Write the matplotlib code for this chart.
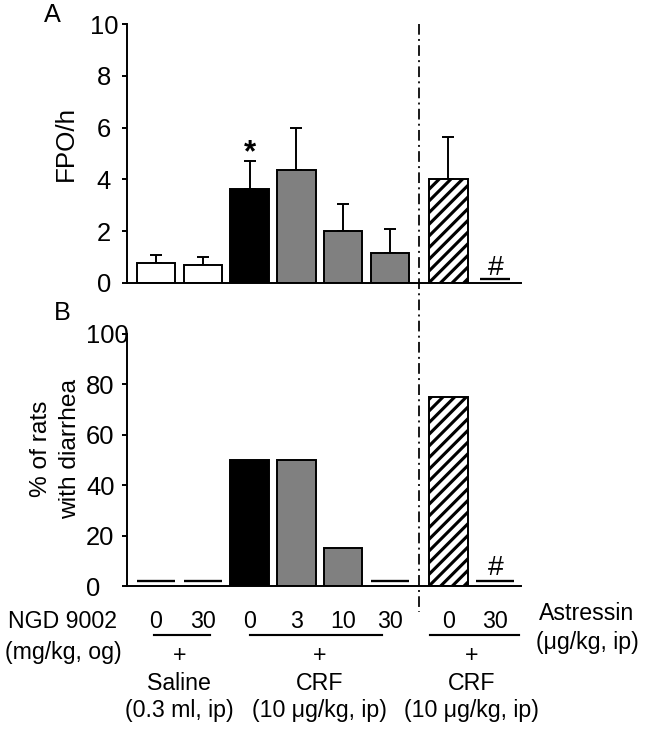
import matplotlib
matplotlib.use("Agg")
import matplotlib.pyplot as plt
from matplotlib.lines import Line2D
from matplotlib.transforms import blended_transform_factory
import numpy as np

# ---------------- data ----------------
positions = [0, 1, 2, 3, 4, 5, 6.25, 7.25]
fpo_mean = [0.77, 0.69, 3.63, 4.36, 2.0, 1.15, 4.0, 0.0]
fpo_sem = [0.31, 0.31, 1.08, 1.64, 1.04, 0.93, 1.63, 0.0]
diarrhea_pct = [0, 0, 50, 50, 15, 0, 75, 0]
fill_colors = ["white", "white", "black", "#808080", "#808080", "#808080", "white", "white"]
hatches = ["", "", "", "", "", "", "////", ""]
dose_labels = ["0", "30", "0", "3", "10", "30", "0", "30"]
groups = [(0, 1), (2, 5), (6, 7)]
group_names = ["Saline", "CRF", "CRF"]
group_doses = ["(0.3 ml, ip)", "(10 \u03bcg/kg, ip)", "(10 \u03bcg/kg, ip)"]
group_line_pad = [(-0.05, 0.15), (0.0, -0.17), (-0.4, 0.5)]
sig_star = [2]
sig_hash = [7]

# ---------------- style ----------------
DPI = 140
W, H = 647, 731
plt.rcParams["font.family"] = ["Liberation Sans", "DejaVu Sans"]
plt.rcParams["hatch.linewidth"] = 1.6
plt.rcParams["lines.scale_dashes"] = False

fig = plt.figure(figsize=(W / DPI, H / DPI), dpi=DPI)

def fy(py):
    return 1 - py / H

def px2pt(p):
    return p * 72 / DPI

left = 127 / W
width = (521 - 127) / W
axA = fig.add_axes([left, fy(283), width, (283 - 24) / H])
axB = fig.add_axes([left, fy(586), width, (586 - 334) / H])

bar_w = 0.82
xlim = (-0.62, 7.8)
tick_fs = 13.2
tick_len_px = 4.5

for ax in (axA, axB):
    for s in ("top", "right"):
        ax.spines[s].set_visible(False)
    for s in ("left", "bottom"):
        ax.spines[s].set_linewidth(1.0)
    ax.set_xlim(*xlim)
    ax.set_xticks([])

# ---- Panel A ----
axA.set_ylim(0, 10)
axA.set_yticks([0, 2, 4, 6, 8, 10])
axA.tick_params(axis="y", direction="out", length=px2pt(tick_len_px), width=1.0,
                pad=px2pt(127 - tick_len_px - 104), labelsize=tick_fs)
for lab in axA.get_yticklabels():
    lab.set_horizontalalignment("center")
for i, (x, v) in enumerate(zip(positions, fpo_mean)):
    if v > 0:
        axA.bar(x, v, width=bar_w, color=fill_colors[i], edgecolor="black",
                linewidth=1.0, hatch=hatches[i], zorder=2)
        axA.errorbar(x, v, yerr=[[0], [fpo_sem[i]]], fmt="none", ecolor="black",
                     elinewidth=1.0, capsize=3.2, capthick=1.0, zorder=1)
    else:
        axA.hlines(0.15, x - 0.32, x + 0.32, color="black", linewidth=1.2, zorder=3)
for i in sig_star:
    axA.annotate("*", (positions[i], fpo_mean[i] + fpo_sem[i]), xytext=(0, 4),
                 textcoords="offset points", ha="center", va="center", fontsize=16,
                 fontweight="bold")
for i in sig_hash:
    axA.annotate("#", (positions[i], fpo_mean[i]), xytext=(0, 7.5),
                 textcoords="offset points", ha="center", va="center", fontsize=14.5)
axA.set_ylabel("FPO/h", fontsize=13.4)
axA.yaxis.set_label_coords((78 - 127) / 394, 0.537)

# ---- Panel B ----
axB.set_ylim(0, 100)
axB.set_yticks([0, 20, 40, 60, 80, 100])
axB.tick_params(axis="y", direction="out", length=px2pt(tick_len_px), width=1.0,
                pad=px2pt(127 - tick_len_px - 86), labelsize=tick_fs)
for lab in axB.get_yticklabels():
    lab.set_horizontalalignment("left")
for i, (x, v) in enumerate(zip(positions, diarrhea_pct)):
    if v > 0:
        axB.bar(x, v, width=bar_w, color=fill_colors[i], edgecolor="black",
                linewidth=1.0, hatch=hatches[i], zorder=2)
    else:
        axB.hlines(2.0, x - bar_w / 2, x + bar_w / 2, color="black", linewidth=1.2,
                   zorder=3)
for i in sig_hash:
    axB.annotate("#", (positions[i], diarrhea_pct[i]), xytext=(0, 9.5),
                 textcoords="offset points", ha="center", va="center", fontsize=14.5)
axB.set_ylabel("% of rats\nwith diarrhea", fontsize=12.6, linespacing=1.4)
axB.yaxis.set_label_coords((81 - 127) / 394, 0.545)

# ---- panel letters ----
fig.text(52 / W, fy(15), "A", fontsize=13, ha="center", va="center")
fig.text(62 / W, fy(313), "B", fontsize=13, ha="center", va="center")

# ---- separator dash-dot line ----
blend = blended_transform_factory(axB.transData, fig.transFigure)
sep_x = (positions[5] + positions[6]) / 2
fig.add_artist(Line2D([sep_x, sep_x], [fy(24), fy(612)], transform=blend,
                      color="black", linewidth=0.9, dashes=(5.5, 2.2, 1.0, 2.2)))

# ---- bottom labels ----
fs = 11.9
fig.text(63 / W, fy(622), "NGD 9002", fontsize=fs, ha="center", va="center")
fig.text(63 / W, fy(653), "(mg/kg, og)", fontsize=fs, ha="center", va="center")
fig.text(587 / W, fy(613), "Astressin", fontsize=fs, ha="center", va="center")
fig.text(587 / W, fy(643), "(\u03bcg/kg, ip)", fontsize=fs, ha="center", va="center")
for x, lab in zip(positions, dose_labels):
    fig.text(x, fy(622), lab, fontsize=fs, ha="center", va="center", transform=blend)
for (a, b), name, dose, (pl, pr) in zip(groups, group_names, group_doses, group_line_pad):
    x0 = positions[a] + pl
    x1 = positions[b] + pr
    fig.add_artist(Line2D([x0, x1], [fy(635), fy(635)], transform=blend,
                          color="black", linewidth=1.1))
    xc = (positions[a] + positions[b]) / 2
    fig.text(xc, fy(655), "+", fontsize=fs, ha="center", va="center", transform=blend)
    fig.text(xc, fy(683), name, fontsize=fs, ha="center", va="center", transform=blend)
    fig.text(xc, fy(710), dose, fontsize=fs, ha="center", va="center", transform=blend)

fig.savefig("out.png", dpi=DPI, facecolor="white")
